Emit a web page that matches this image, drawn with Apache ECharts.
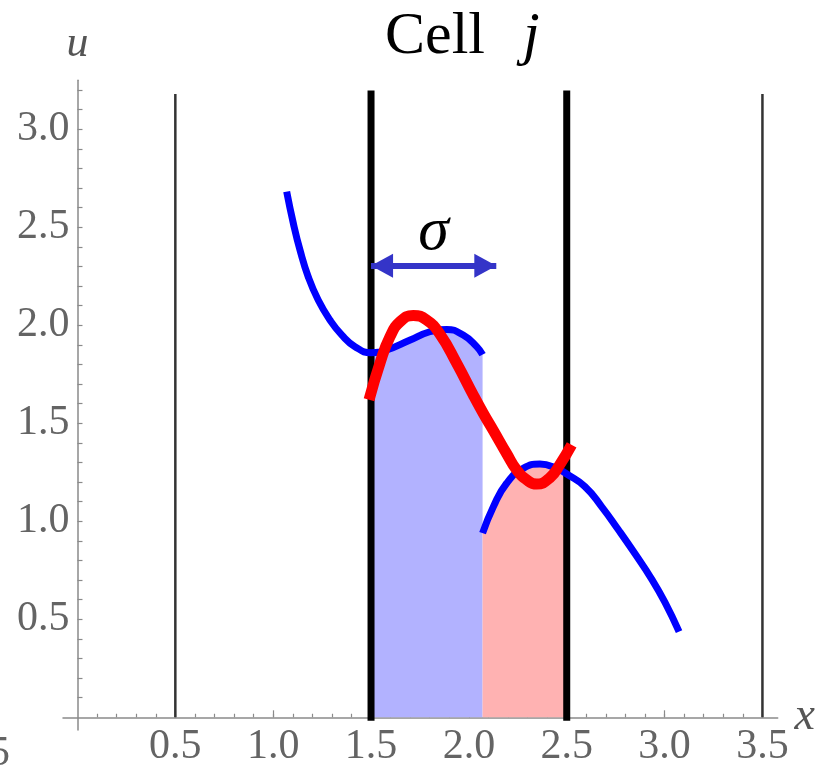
<!DOCTYPE html>
<html><head><meta charset="utf-8">
<script src="https://cdn.jsdelivr.net/npm/echarts@6/dist/echarts.min.js"></script>
<style>html,body{margin:0;padding:0;background:#fff}#c{width:821px;height:766px}</style>
</head><body><div id="c"></div>
<script>
// ---- data ----
const xTickLabels = [0.5, 1.0, 1.5, 2.0, 2.5, 3.0, 3.5];
const yTickLabels = [0.5, 1.0, 1.5, 2.0, 2.5, 3.0];
const cellEdgesThin = [0.5, 3.5];
const cellEdgesThick = [1.5, 2.5];
const edgeTop = 3.18;
const cellLeft = 1.5;
const cellRight = 2.5;

const blue1X = [1.069, 1.103, 1.137, 1.179, 1.230, 1.290, 1.350, 1.418, 1.5, 1.58, 1.70, 1.80, 1.887, 1.971, 2.04, 2.07];
const blue1Y = [2.682, 2.520, 2.384, 2.248, 2.129, 2.027, 1.951, 1.891, 1.860, 1.874, 1.925, 1.967, 1.979, 1.95, 1.891, 1.85];

const blue2X = [2.07, 2.125, 2.193, 2.278, 2.363, 2.449, 2.5, 2.593, 2.679, 2.763, 2.849, 2.934, 3.002, 3.074];
const blue2Y = [0.939, 1.074, 1.194, 1.270, 1.292, 1.270, 1.241, 1.177, 1.074, 0.958, 0.834, 0.705, 0.586, 0.437];

const redX = [1.49, 1.546, 1.597, 1.65, 1.716, 1.784, 1.852, 1.938, 2.022, 2.074, 2.125, 2.193, 2.244, 2.30, 2.346, 2.414, 2.465, 2.525];
const redY = [1.62, 1.808, 1.942, 2.02, 2.05, 2.027, 1.955, 1.806, 1.645, 1.55, 1.463, 1.345, 1.262, 1.208, 1.19, 1.222, 1.29, 1.39];

const arrowX = [1.5, 2.14];
const arrowY = 2.304;

// ---- build ----
const pts = (xs, ys) => xs.map((x, i) => [x, ys[i]]);
const blue1 = pts(blue1X, blue1Y);
const blue2 = pts(blue2X, blue2Y);
const red = pts(redX, redY);
const fill1 = blue1.filter(p => p[0] >= cellLeft);
const fill2 = blue2.filter(p => p[0] <= cellRight);

const minorX = []; for (let i = 1; i <= 35; i++) minorX.push(i / 10);
const minorY = []; for (let i = 1; i <= 32; i++) minorY.push(i / 10);

const labelFont = 'Liberation Serif';
const labelColor = '#646464';
const axisColor = '#8a8a8a';
const curve = { smooth: 0.5, symbol: 'none', silent: true };

const series = [
  Object.assign({ type: 'line', data: fill1, lineStyle: { width: 0 },
    areaStyle: { color: '#b2b2ff', opacity: 1 }, z: 1 }, curve),
  Object.assign({ type: 'line', data: fill2, lineStyle: { width: 0 },
    areaStyle: { color: '#ffb2b2', opacity: 1 }, z: 1 }, curve)
];
cellEdgesThin.forEach(x => series.push({ type: 'line', data: [[x, 0], [x, edgeTop]], symbol: 'none',
  lineStyle: { color: '#333', width: 2.5 }, z: 2, silent: true }));
cellEdgesThick.forEach(x => series.push({ type: 'line', data: [[x, 0], [x, edgeTop]], symbol: 'none',
  lineStyle: { color: '#000', width: 7, cap: 'square' }, z: 2, silent: true }));
series.push(Object.assign({ type: 'line', data: blue1, lineStyle: { color: '#0000ff', width: 7 }, z: 3 }, curve));
series.push(Object.assign({ type: 'line', data: blue2, lineStyle: { color: '#0000ff', width: 7 }, z: 3 }, curve));
series.push(Object.assign({ type: 'line', data: red, lineStyle: { color: '#ff0000', width: 11 }, z: 4 }, curve));
series.push({ type: 'line', data: [], z: 5, silent: true,
  markLine: {
    silent: true, animation: false,
    symbol: ['triangle', 'triangle'], symbolSize: [24, 22], symbolOffset: [[0, 11], [0, 11]],
    lineStyle: { color: '#3434c8', width: 6, type: 'solid' },
    label: { show: true, position: 'middle', formatter: 'σ', distance: 2,
      fontFamily: labelFont, fontStyle: 'italic', fontSize: 62, color: '#000' },
    data: [[{ coord: [arrowX[0], arrowY] }, { coord: [arrowX[1], arrowY] }]]
  }
});

const chart = echarts.init(document.getElementById('c'), null, { renderer: 'canvas' });
chart.setOption({
  animation: false,
  backgroundColor: '#fff',
  title: {
    text: '{a|Cell}{b|j}', left: 380, top: 2,
    textStyle: { rich: {
      a: { fontFamily: labelFont, fontSize: 60, fontWeight: 'normal', color: '#000', padding: [0, 38, 0, 0] },
      b: { fontFamily: labelFont, fontStyle: 'italic', fontWeight: 'normal', fontSize: 60, color: '#000' }
    } }
  },
  grid: { left: 63, right: 43.3, top: 80.3, bottom: 36, outerBoundsMode: 'none', containLabel: false },
  xAxis: [
    { type: 'value', min: -0.074, max: 3.578,
      axisLine: { onZero: true, lineStyle: { color: axisColor, width: 1.5 } },
      axisTick: { show: true, inside: true, length: 3.5, customValues: minorX, lineStyle: { color: axisColor, width: 1.2 } },
      axisLabel: { customValues: xTickLabels, formatter: v => v.toFixed(1), fontFamily: labelFont, fontSize: 42, color: labelColor, margin: -4 },
      splitLine: { show: false },
      name: 'x', nameLocation: 'end', nameGap: 14,
      nameTextStyle: { fontFamily: labelFont, fontStyle: 'italic', fontSize: 46, color: '#555', verticalAlign: 'middle' }
    },
    { type: 'value', min: -0.074, max: 3.578, position: 'bottom', offset: -12.7,
      axisLine: { show: false, onZero: false },
      axisTick: { show: true, inside: true, length: 7, customValues: xTickLabels, lineStyle: { color: axisColor, width: 1.2 } },
      axisLabel: { show: false }, splitLine: { show: false }
    }
  ],
  yAxis: {
    type: 'value', min: -0.065, max: 3.25,
    axisLine: { onZero: true, lineStyle: { color: axisColor, width: 1.5 } },
    axisTick: { show: true, inside: true, length: 5, customValues: minorY, lineStyle: { color: axisColor, width: 1.2 } },
    axisLabel: { customValues: yTickLabels, formatter: v => v.toFixed(1), fontFamily: labelFont, fontSize: 42, color: labelColor, margin: -6.5 },
    splitLine: { show: false },
    name: 'u', nameLocation: 'end', nameGap: 14,
    nameTextStyle: { fontFamily: labelFont, fontStyle: 'italic', fontSize: 44, color: '#555' }
  },
  graphic: [
    { type: 'text', x: 10, y: 733, silent: true,
      style: { text: '−0.5', align: 'right', verticalAlign: 'top', font: '42px "Liberation Serif"', fill: labelColor } }
  ],
  series: series
});
</script>
</body></html>
